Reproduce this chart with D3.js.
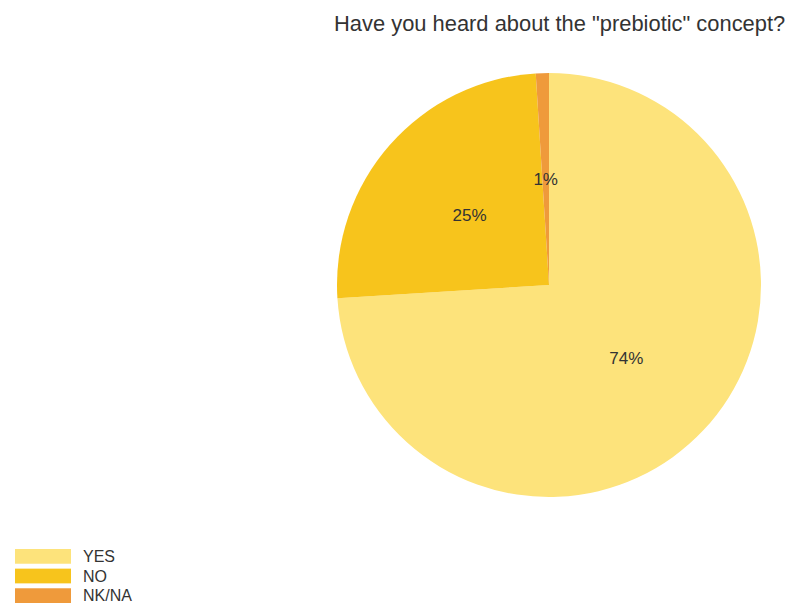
<!DOCTYPE html>
<html><head><meta charset="utf-8">
<script src="https://cdn.jsdelivr.net/npm/d3@7"></script>
<style>body{margin:0;background:#fff}svg{display:block}</style>
</head><body>
<script>
const categories = ["YES", "NO", "NK/NA"];
const values = [74, 25, 1];
const colors = ["#FDE37B", "#F7C41C", "#EF9A3B"];
const title = 'Have you heard about the "prebiotic" concept?';

const W = 792, H = 606;
const svg = d3.select("body").append("svg").attr("width", W).attr("height", H);
const font = "Arial, 'Liberation Sans', sans-serif";

svg.append("text").attr("x", 334).attr("y", 31)
  .attr("font-family", font).attr("font-size", 21.9).attr("fill", "#333")
  .text(title);

const cx = 549, cy = 285, r = 212;
const pie = d3.pie().sort(null).value(d => d)(values);
const arc = d3.arc().innerRadius(0).outerRadius(r);
const lab = d3.arc().innerRadius(r * 0.5).outerRadius(r * 0.5);
const g = svg.append("g").attr("transform", `translate(${cx},${cy})`);
g.selectAll("path").data(pie).join("path")
  .attr("d", arc).attr("fill", (d, i) => colors[i]);
g.selectAll("text").data(pie).join("text")
  .attr("transform", d => `translate(${lab.centroid(d)})`)
  .attr("text-anchor", "middle").attr("dy", "0.35em")
  .attr("font-family", font).attr("font-size", 17).attr("fill", "#333")
  .text(d => Math.round(d.value / d3.sum(values) * 100) + "%");

const lg = svg.append("g");
const y = d3.scaleBand().domain(categories).range([549, 603]).paddingInner(0.25);
categories.forEach((c, i) => {
  lg.append("rect").attr("x", 15).attr("y", y(c)).attr("width", 56).attr("height", y.bandwidth())
    .attr("fill", colors[i]);
  lg.append("text").attr("x", 83).attr("y", y(c) + y.bandwidth() / 2).attr("dy", "0.35em")
    .attr("font-family", font).attr("font-size", 16).attr("fill", "#333").text(c);
});
</script>
</body></html>
